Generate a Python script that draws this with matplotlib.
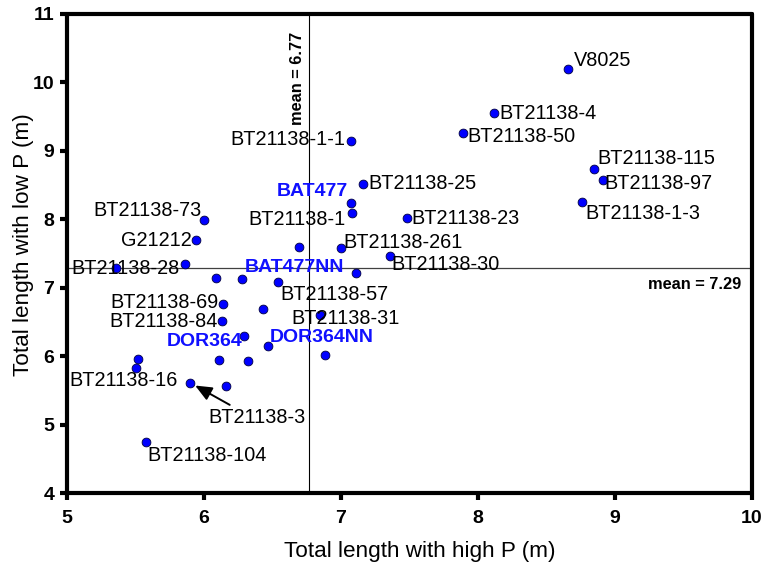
import matplotlib
matplotlib.use("Agg")
import matplotlib.pyplot as plt

plt.rcParams['font.family'] = ['Liberation Sans', 'DejaVu Sans']

# total length (m) of each line under high P (x) and low P (y); "" = no label
names = ["V8025", "BT21138-4", "BT21138-50", "BT21138-1-1", "BT21138-115",
         "BT21138-97", "BT21138-25", "BT21138-1-3", "BAT477", "BT21138-1",
         "BT21138-23", "BT21138-73", "G21212", "", "BT21138-261",
         "BT21138-30", "", "BT21138-28", "", "BAT477NN",
         "BT21138-57", "", "BT21138-69", "", "BT21138-84",
         "BT21138-31", "DOR364", "DOR364NN", "", "",
         "BT21138-16", "", "", "BT21138-3", "", "BT21138-104"]
high_p = [8.66, 8.12, 7.89, 7.07, 8.85,
          8.91, 7.16, 8.76, 7.07, 7.08,
          7.48, 6.00, 5.94, 6.69, 7.00,
          7.36, 5.36, 5.86, 6.09, 6.28,
          6.54, 7.11, 6.14, 6.43, 6.13,
          6.85, 6.29, 6.47, 6.88, 5.52,
          5.50, 6.11, 6.32, 5.90, 6.16, 5.58]
low_p = [10.20, 9.55, 9.26, 9.14, 8.73,
         8.57, 8.51, 8.25, 8.24, 8.09,
         8.02, 7.99, 7.70, 7.59, 7.58,
         7.46, 7.29, 7.35, 7.14, 7.13,
         7.08, 7.21, 6.76, 6.69, 6.51,
         6.60, 6.29, 6.15, 6.01, 5.96,
         5.82, 5.94, 5.93, 5.61, 5.56, 4.74]
checks = ["BAT477", "BAT477NN", "DOR364", "DOR364NN"]

mean_high = 6.77
mean_low = 7.29

# where each label sits relative to its point, in pixels: (dx, dy, ha)
label_pos = {
    "V8025": (5, 8, "left"),
    "BT21138-4": (5, 0, "left"),
    "BT21138-50": (4, -3, "left"),
    "BT21138-1-1": (-5, 2, "right"),
    "BT21138-115": (3, 11, "left"),
    "BT21138-97": (2, -3, "left"),
    "BT21138-25": (5, 1, "left"),
    "BT21138-1-3": (3, -11, "left"),
    "BAT477": (-3, 11, "right"),
    "BT21138-1": (-6, -6, "right"),
    "BT21138-23": (5, -1, "left"),
    "BT21138-73": (-2, 9, "right"),
    "G21212": (-4, -1, "right"),
    "BT21138-261": (2, 6, "left"),
    "BT21138-30": (1, -8, "left"),
    "BT21138-28": (-5, -5, "right"),
    "BAT477NN": (2, 11, "left"),
    "BT21138-57": (2, -12, "left"),
    "BT21138-69": (-5, 2, "right"),
    "BT21138-84": (-4, 0, "right"),
    "BT21138-31": (-29, -3, "left"),
    "DOR364": (-1, -5, "right"),
    "DOR364NN": (1, 8, "left"),
    "BT21138-16": (42, -12, "right"),
    "BT21138-104": (1, -13, "left"),
}

fig = plt.figure(figsize=(7.62, 5.65), dpi=100)
ax = fig.add_axes([67 / 762, 1 - 493 / 565, 685 / 762, 479 / 565])

ax.axvline(mean_high, color="black", lw=0.8, zorder=1)
ax.axhline(mean_low, color="#404040", lw=0.9, zorder=1)

ax.scatter(high_p, low_p, s=40, color="#0000ff", edgecolors="#000040",
           linewidths=0.6, zorder=3)

for name, x, y in zip(names, high_p, low_p):
    if name == "":
        continue
    if name == "BT21138-3":
        ax.annotate(name, (x, y), xytext=(67, -35), textcoords="offset pixels",
                    ha="center", va="center", fontsize=14.3,
                    arrowprops=dict(arrowstyle="-|>,head_length=0.7,head_width=0.3",
                                    color="black", lw=1.4, relpos=(0.28, 1.0),
                                    shrinkA=1, shrinkB=4))
        continue
    dx, dy, ha = label_pos[name]
    if name in checks:
        ax.annotate(name, (x, y), xytext=(dx, dy), textcoords="offset pixels",
                    ha=ha, va="center", fontsize=14, fontweight="bold",
                    color="#1010ff", zorder=4)
    else:
        ax.annotate(name, (x, y), xytext=(dx, dy), textcoords="offset pixels",
                    ha=ha, va="center", fontsize=14.3, zorder=4)

ax.annotate("mean = 6.77", (mean_high, 11), xytext=(-4, -18),
            textcoords="offset pixels", rotation=90, ha="right", va="top",
            fontsize=11.8, fontweight="bold")
ax.annotate("mean = 7.29", (10, mean_low), xytext=(-11, -17),
            textcoords="offset pixels", ha="right", va="center",
            fontsize=11.8, fontweight="bold")

ax.set_xlim(5, 10)
ax.set_ylim(4, 11)
ax.set_xticks([5, 6, 7, 8, 9, 10])
ax.set_yticks([4, 5, 6, 7, 8, 9, 10, 11])

for side in ["left", "right", "top", "bottom"]:
    ax.spines[side].set_linewidth(3.0)
    ax.spines[side].set_capstyle("round")
ax.tick_params(direction="out", length=5, width=3, labelsize=14, pad=4)
ax.tick_params(axis="x", pad=7)
for lab in ax.get_xticklabels() + ax.get_yticklabels():
    lab.set_fontweight("bold")

ax.set_xlabel("Total length with high P (m)", fontsize=16.2)
ax.set_ylabel("Total length with low P (m)", fontsize=16.2)
ax.xaxis.set_label_coords(0.515, -0.1)
ax.yaxis.set_label_coords(-0.048, 0.518)

fig.savefig("out.png", dpi=100)
